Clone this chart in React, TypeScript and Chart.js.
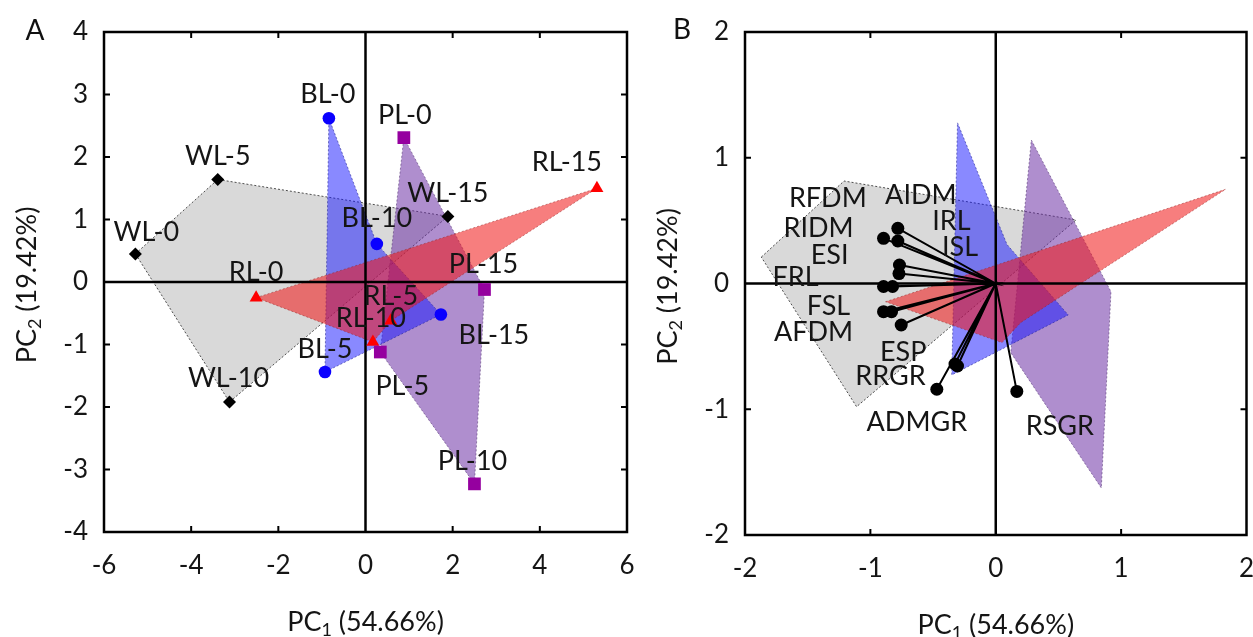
import React, { useEffect, useRef } from "react";
import { Chart, registerables } from "chart.js";
Chart.register(...registerables);

// ---------- Panel A: scores ----------
const wlLabels = ["WL-0", "WL-5", "WL-15", "WL-10"];
const wlX = [-5.28, -3.39, 1.89, -3.12];
const wlY = [0.45, 1.64, 1.05, -1.92];
const blLabels = ["BL-0", "BL-10", "BL-15", "BL-5"];
const blX = [-0.84, 0.26, 1.73, -0.93];
const blY = [2.62, 0.61, -0.52, -1.44];
const plLabels = ["PL-0", "PL-15", "PL-10", "PL-5"];
const plX = [0.88, 2.73, 2.5, 0.34];
const plY = [2.31, -0.12, -3.23, -1.12];
const rlLabels = ["RL-0", "RL-15", "RL-5", "RL-10"];
const rlX = [-2.51, 5.31, 0.58, 0.17];
const rlY = [-0.25, 1.5, -0.62, -0.96];

// ---------- Panel B: group polygons ----------
const wlBX = [-1.87, -1.21, 0.64, -1.11];
const wlBY = [0.21, 0.815, 0.505, -0.98];
const blBX = [-0.305, 0.09, 0.578, -0.351];
const blBY = [1.278, 0.31, -0.25, -0.727];
const plBX = [0.284, 0.919, 0.842, 0.12];
const plBY = [1.141, -0.065, -1.626, -0.55];
const rlBX = [-0.879, 1.833, 0.2, 0.05];
const rlBY = [-0.145, 0.749, -0.31, -0.47];

// ---------- Panel B: loadings ----------
const vecLabels = ["AIDM", "RIDM", "RFDM", "IRL", "ISL", "FRL", "ESI", "FSL", "AFDM", "ESP", "RRGR", "", "ADMGR", "RSGR"];
const vecX = [-0.781, -0.895, -0.781, -0.768, -0.772, -0.895, -0.823, -0.895, -0.831, -0.754, -0.305, -0.325, -0.47, 0.168];
const vecY = [0.439, 0.359, 0.338, 0.147, 0.079, -0.024, -0.024, -0.224, -0.224, -0.33, -0.656, -0.64, -0.841, -0.858];

// axis ranges / ticks
const axA = { xMin: -6, xMax: 6, xStep: 2, yMin: -4, yMax: 4, yStep: 1 };
const axB = { xMin: -2, xMax: 2, xStep: 1, yMin: -2, yMax: 2, yStep: 1 };

// ---------- styling (label offsets in px) ----------
const wlOff = [[11, -23], [0, -24], [0, -24], [-1, -25]];
const blOff = [[-1, -25], [0, -27], [53, 20], [0, -24]];
const plOff = [[1, -23], [-1, -26], [-2, -24], [22, 33]];
const rlOff = [[0, -26], [-30, -27], [0, -25], [-2, -25]];
const vecOff = [[23, -34], [-65, -11], [-70, -44], [52, -45], [61, -27], [-88, -10], [-63, -32], [-55, -6], [-78, 20], [2, 26], [-67, 9], [0, 0], [-20, 32], [43, 34]];

const FONT = "Lato, 'Open Sans', sans-serif";
const TXT = "#151515";
const LABEL_SIZE = 27;
const TICK_SIZE = 26;
const TITLE_SIZE = 27;

const COLORS = {
  grayFill: "rgba(185,185,185,0.55)",
  grayLine: "rgba(60,60,60,0.9)",
  blueFill: "rgba(20,20,255,0.5)",
  blueLine: "rgba(40,40,150,0.6)",
  purpleFill: "rgba(110,50,165,0.55)",
  purpleLine: "rgba(90,60,120,0.6)",
  redFill: "rgba(240,20,20,0.55)",
  redLine: "rgba(150,40,40,0.5)",
};

function pts(xs: number[], ys: number[]) {
  return xs.map((x, i) => ({ x, y: ys[i] }));
}

function polyDataset(xs: number[], ys: number[], fill: string, line: string, order: number) {
  const data = pts(xs, ys);
  data.push({ x: xs[0], y: ys[0] });
  return {
    type: "line" as const,
    data,
    fill: "shape",
    backgroundColor: fill,
    borderColor: line,
    borderWidth: 1,
    borderDash: [2, 2],
    pointRadius: 0,
    tension: 0,
    order,
  };
}

function markerDataset(xs: number[], ys: number[], color: string, style: string, radius: number, order: number) {
  return {
    type: "scatter" as const,
    data: pts(xs, ys),
    pointStyle: style,
    pointRadius: radius,
    pointBackgroundColor: color,
    pointBorderColor: color,
    pointBorderWidth: 0,
    order,
  };
}

function zeroLines(ax: typeof axA, order: number) {
  return [
    {
      type: "line" as const,
      data: [{ x: ax.xMin, y: 0 }, { x: ax.xMax, y: 0 }],
      borderColor: "#000",
      borderWidth: 2.5,
      pointRadius: 0,
      fill: false,
      order,
    },
    {
      type: "line" as const,
      data: [{ x: 0, y: ax.yMin }, { x: 0, y: ax.yMax }],
      borderColor: "#000",
      borderWidth: 2.5,
      pointRadius: 0,
      fill: false,
      order,
    },
  ];
}

type LabelItem = { x: number; y: number; text: string; dx: number; dy: number };

function labelItems(labels: string[], xs: number[], ys: number[], off: number[][]): LabelItem[] {
  return labels.map((t, i) => ({ x: xs[i], y: ys[i], text: t, dx: off[i][0], dy: off[i][1] }));
}

function drawSubTitle(ctx: CanvasRenderingContext2D, main: string, sub: string, rest: string, size: number) {
  const subSize = Math.round(size * 0.65);
  ctx.font = `${size}px ${FONT}`;
  const w1 = ctx.measureText(main).width;
  const w3 = ctx.measureText(rest).width;
  ctx.font = `${subSize}px ${FONT}`;
  const w2 = ctx.measureText(sub).width;
  const total = w1 + w2 + w3;
  let x = -total / 2;
  const base = size * 0.36;
  ctx.textAlign = "left";
  ctx.textBaseline = "alphabetic";
  ctx.fillStyle = TXT;
  ctx.font = `${size}px ${FONT}`;
  ctx.fillText(main, x, base);
  x += w1;
  ctx.font = `${subSize}px ${FONT}`;
  ctx.fillText(sub, x, base + size * 0.2);
  x += w2;
  ctx.font = `${size}px ${FONT}`;
  ctx.fillText(rest, x, base);
}

function makeDecor(letter: string, letterX: number, letterY: number, labels: LabelItem[], labelSize: number) {
  return {
    id: "decor" + letter,
    afterDraw(chart: any) {
      const { ctx, chartArea: a, scales } = chart;
      const xs = scales.x;
      const ys = scales.y;
      ctx.save();
      // frame
      ctx.strokeStyle = "#000";
      ctx.lineWidth = 2.5;
      ctx.strokeRect(a.left, a.top, a.right - a.left, a.bottom - a.top);
      // inner ticks on all sides
      ctx.lineWidth = 2;
      const tl = 6;
      ctx.beginPath();
      xs.ticks.forEach((t: any) => {
        const v = t.value;
        if (v === xs.min || v === xs.max || v === 0) return;
        const p = xs.getPixelForValue(v);
        ctx.moveTo(p, a.top);
        ctx.lineTo(p, a.top + tl);
        ctx.moveTo(p, a.bottom);
        ctx.lineTo(p, a.bottom - tl);
      });
      ys.ticks.forEach((t: any) => {
        const v = t.value;
        if (v === ys.min || v === ys.max || v === 0) return;
        const p = ys.getPixelForValue(v);
        ctx.moveTo(a.left, p);
        ctx.lineTo(a.left + tl, p);
        ctx.moveTo(a.right, p);
        ctx.lineTo(a.right - tl, p);
      });
      ctx.stroke();

      // point labels
      ctx.font = `${labelSize}px ${FONT}`;
      ctx.fillStyle = TXT;
      ctx.textAlign = "center";
      ctx.textBaseline = "alphabetic";
      labels.forEach((l) => {
        if (!l.text) return;
        const px = xs.getPixelForValue(l.x) + l.dx;
        const py = ys.getPixelForValue(l.y) + l.dy + labelSize * 0.36;
        ctx.fillText(l.text, px, py);
      });

      // axis titles
      ctx.save();
      ctx.translate((a.left + a.right) / 2, a.bottom + 89);
      drawSubTitle(ctx, "PC", "1", " (54.66%)", TITLE_SIZE);
      ctx.restore();
      ctx.save();
      ctx.translate(a.left - 78, (a.top + a.bottom) / 2 + 3);
      ctx.rotate(-Math.PI / 2);
      drawSubTitle(ctx, "PC", "2", " (19.42%)", TITLE_SIZE);
      ctx.restore();

      // panel letter
      ctx.font = `28px ${FONT}`;
      ctx.fillStyle = "#111";
      ctx.textAlign = "center";
      ctx.textBaseline = "alphabetic";
      ctx.fillText(letter, letterX, letterY + 10);
      ctx.restore();
    },
  };
}

function scalesCfg(ax: typeof axA, yWidth: number, xHeight: number) {
  const tickFont = { family: FONT, size: TICK_SIZE };
  return {
    x: {
      type: "linear" as const,
      min: ax.xMin,
      max: ax.xMax,
      grid: { display: false, drawTicks: false },
      border: { display: false },
      ticks: { stepSize: ax.xStep, padding: 18, color: TXT, font: tickFont },
      afterFit(s: any) {
        s.height = xHeight;
        s.paddingLeft = 0;
        s.paddingRight = 0;
      },
    },
    y: {
      type: "linear" as const,
      min: ax.yMin,
      max: ax.yMax,
      grid: { display: false, drawTicks: false },
      border: { display: false },
      ticks: { stepSize: ax.yStep, padding: 16, color: TXT, font: tickFont },
      afterFit(s: any) {
        s.width = yWidth;
        s.paddingTop = 0;
        s.paddingBottom = 0;
      },
    },
  };
}

function configA(): any {
  const labels = [
    ...labelItems(wlLabels, wlX, wlY, wlOff),
    ...labelItems(blLabels, blX, blY, blOff),
    ...labelItems(plLabels, plX, plY, plOff),
    ...labelItems(rlLabels, rlX, rlY, rlOff),
  ];
  return {
    type: "scatter",
    data: {
      datasets: [
        markerDataset(wlX, wlY, "#000000", "rectRot", 6.5, 1),
        markerDataset(blX, blY, "#0a00ff", "circle", 6.3, 2),
        markerDataset(plX, plY, "#95009f", "rect", 9, 3),
        markerDataset(rlX, rlY, "#ff0000", "triangle", 7.5, 4),
        ...zeroLines(axA, 10),
        polyDataset(rlX, rlY, COLORS.redFill, COLORS.redLine, 20),
        polyDataset(blX, blY, COLORS.blueFill, COLORS.blueLine, 30),
        polyDataset(plX, plY, COLORS.purpleFill, COLORS.purpleLine, 40),
        polyDataset(wlX, wlY, COLORS.grayFill, COLORS.grayLine, 50),
      ],
    },
    options: {
      responsive: false,
      animation: false,
      devicePixelRatio: 1,
      events: [],
      layout: { padding: { left: 0, right: 13, top: 32, bottom: 0 } },
      plugins: { legend: { display: false }, tooltip: { enabled: false } },
      scales: scalesCfg(axA, 104, 105),
    },
    plugins: [makeDecor("A", 35, 30, labels, LABEL_SIZE)],
  };
}

function configB(): any {
  const vecData: { x: number; y: number }[] = [];
  vecX.forEach((x, i) => {
    vecData.push({ x: 0, y: 0 });
    vecData.push({ x, y: vecY[i] });
  });
  const labels = labelItems(vecLabels, vecX, vecY, vecOff);
  return {
    type: "scatter",
    data: {
      datasets: [
        {
          type: "line",
          data: vecData,
          borderColor: "#000",
          borderWidth: 2,
          tension: 0,
          fill: false,
          pointRadius: (c: any) => (c.dataIndex % 2 === 1 ? 6.5 : 0),
          pointBackgroundColor: "#000",
          pointBorderColor: "#000",
          pointBorderWidth: 0,
          order: 1,
        },
        ...zeroLines(axB, 10),
        polyDataset(rlBX, rlBY, COLORS.redFill, COLORS.redLine, 20),
        polyDataset(blBX, blBY, COLORS.blueFill, COLORS.blueLine, 30),
        polyDataset(plBX, plBY, COLORS.purpleFill, COLORS.purpleLine, 40),
        polyDataset(wlBX, wlBY, COLORS.grayFill, COLORS.grayLine, 50),
      ],
    },
    options: {
      responsive: false,
      animation: false,
      devicePixelRatio: 1,
      events: [],
      layout: { padding: { left: 0, right: 4, top: 32, bottom: 0 } },
      plugins: { legend: { display: false }, tooltip: { enabled: false } },
      scales: scalesCfg(axB, 105, 102),
    },
    plugins: [makeDecor("B", 42, 29, labels, LABEL_SIZE)],
  };
}

export default function App() {
  const refA = useRef<HTMLCanvasElement>(null);
  const refB = useRef<HTMLCanvasElement>(null);
  useEffect(() => {
    const a = new Chart(refA.current as HTMLCanvasElement, configA());
    const b = new Chart(refB.current as HTMLCanvasElement, configB());
    return () => {
      a.destroy();
      b.destroy();
    };
  }, []);
  return (
    <div style={{ position: "absolute", left: 0, top: 0, width: 1253, height: 637, overflow: "hidden", background: "#fff" }}>
      <canvas ref={refA} width={640} height={637} style={{ position: "absolute", left: 0, top: 0, width: 640, height: 637 }} />
      <canvas ref={refB} width={613} height={637} style={{ position: "absolute", left: 640, top: 0, width: 613, height: 637 }} />
    </div>
  );
}
